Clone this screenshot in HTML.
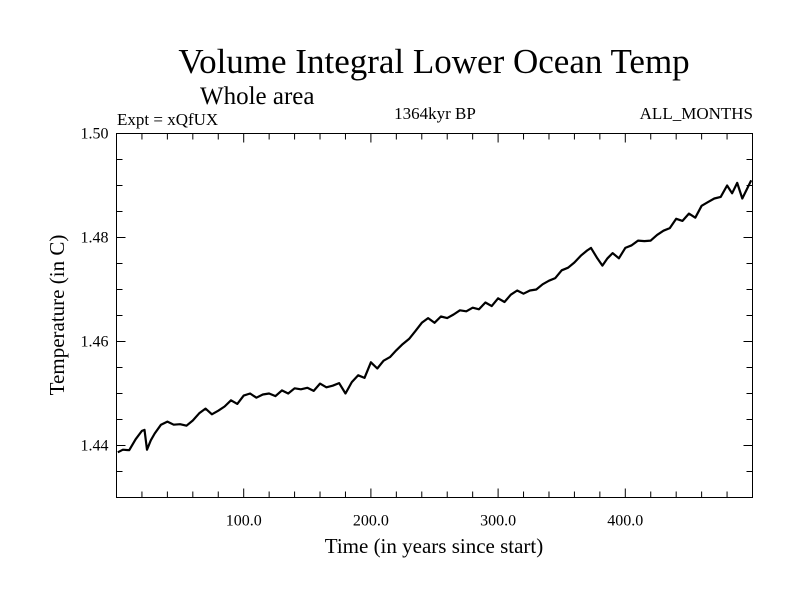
<!DOCTYPE html>
<html><head><meta charset="utf-8"><style>
body{margin:0;background:#fff}
svg text{font-family:"Liberation Serif",serif;fill:#000}
</style></head><body>
<svg id="c" width="800" height="600">
<text x="434" y="73" font-size="35" text-anchor="middle">Volume Integral Lower Ocean Temp</text>
<text x="200" y="104" font-size="25">Whole area</text>
<text x="117" y="125" font-size="17">Expt = xQfUX</text>
<text x="435" y="119" font-size="17" text-anchor="middle">1364kyr BP</text>
<text x="753" y="119" font-size="17" text-anchor="end">ALL_MONTHS</text>
<text x="434" y="553" font-size="21" text-anchor="middle">Time (in years since start)</text>
<text transform="translate(64,315) rotate(-90)" font-size="21" text-anchor="middle">Temperature (in C)</text>
<rect x="116.5" y="133.5" width="636" height="364" fill="none" stroke="#000" stroke-width="1"/>
<g id="ticks"></g>
<path id="line" fill="none" stroke="#000" stroke-width="2.2" stroke-linejoin="round"/>
</svg>
<script>
const xTickVals=[100,200,300,400];
const xTickLabels=["100.0","200.0","300.0","400.0"];
const yTickVals=[1.44,1.46,1.48,1.50];
const yTickLabels=["1.44","1.46","1.48","1.50"];
const years=[1,5,10,15,20,22,24,27,30,35,40,45,50,55,60,65,70,75,80,85,90,95,100,105,110,115,120,125,130,135,140,145,150,155,160,165,170,175,180,185,190,195,200,205,210,215,220,225,230,235,240,245,250,255,260,265,270,275,280,285,290,295,300,305,310,315,320,325,330,335,340,345,350,355,360,365,370,373,378,382,386,390,395,400,405,410,415,420,425,430,435,440,445,450,455,460,465,470,475,480,484,488,492,496,499];
const temps=[1.4387,1.4392,1.4391,1.4412,1.4428,1.4430,1.4392,1.4410,1.4423,1.4440,1.4446,1.4440,1.4441,1.4438,1.4448,1.4462,1.4471,1.4460,1.4467,1.4475,1.4487,1.4480,1.4496,1.4500,1.4492,1.4498,1.4500,1.4495,1.4506,1.4500,1.4510,1.4508,1.4511,1.4505,1.4519,1.4512,1.4515,1.4520,1.4500,1.4522,1.4535,1.4530,1.4560,1.4548,1.4563,1.4570,1.4583,1.4595,1.4605,1.4620,1.4636,1.4645,1.4636,1.4648,1.4645,1.4652,1.4660,1.4658,1.4665,1.4662,1.4675,1.4668,1.4683,1.4676,1.4690,1.4698,1.4692,1.4698,1.4700,1.4710,1.4717,1.4722,1.4737,1.4742,1.4752,1.4765,1.4775,1.4780,1.4760,1.4746,1.4760,1.4770,1.4760,1.4780,1.4785,1.4794,1.4793,1.4794,1.4805,1.4813,1.4818,1.4836,1.4832,1.4846,1.4838,1.4861,1.4868,1.4875,1.4878,1.4900,1.4885,1.4905,1.4875,1.4895,1.4910];
const X0=116.5,X1=752.5,Y0=497.5,Y1=133.5;
const xs=v=>X0+(v-0)/(500-0)*(X1-X0);
const ys=v=>Y0-(v-1.43)/(1.50-1.43)*(Y0-Y1);
const g=document.getElementById('ticks');
const NS="http://www.w3.org/2000/svg";
function ln(x1,y1,x2,y2,name){const l=document.createElementNS(NS,'line');l.setAttribute('x1',x1);l.setAttribute('y1',y1);l.setAttribute('x2',x2);l.setAttribute('y2',y2);l.setAttribute('stroke','#000');


g.appendChild(l);}
function tx(x,y,s,anchor,name){const t=document.createElementNS(NS,'text');t.setAttribute('x',x);t.setAttribute('y',y);t.setAttribute('font-size','16');t.setAttribute('text-anchor',anchor);t.textContent=s;


g.appendChild(t);}
for(let v=20;v<500;v+=20){const major=v%100===0;const L=major?9:6;const x=xs(v);
ln(x,Y0,x,Y0-L,'x-tick');ln(x,Y1,x,Y1+L,'x-tick-top');}
for(let k=1;k<14;k++){const v=1.43+k*0.005;const major=k%4===2;const L=major?9:6;const y=ys(v);
ln(X0,y,X0+L,y,'y-tick');ln(X1,y,X1-L,y,'y-tick-right');}
xTickVals.forEach((v,i)=>tx(xs(v),Y0+28,xTickLabels[i],'middle','x-tick-label'));
yTickVals.forEach((v,i)=>tx(X0-8,ys(v)+5,yTickLabels[i],'end','y-tick-label'));
document.getElementById('line').setAttribute('d',years.map((y,i)=>(i?'L':'M')+xs(y).toFixed(1)+','+ys(temps[i]).toFixed(1)).join(''));
</script>
</body></html>
